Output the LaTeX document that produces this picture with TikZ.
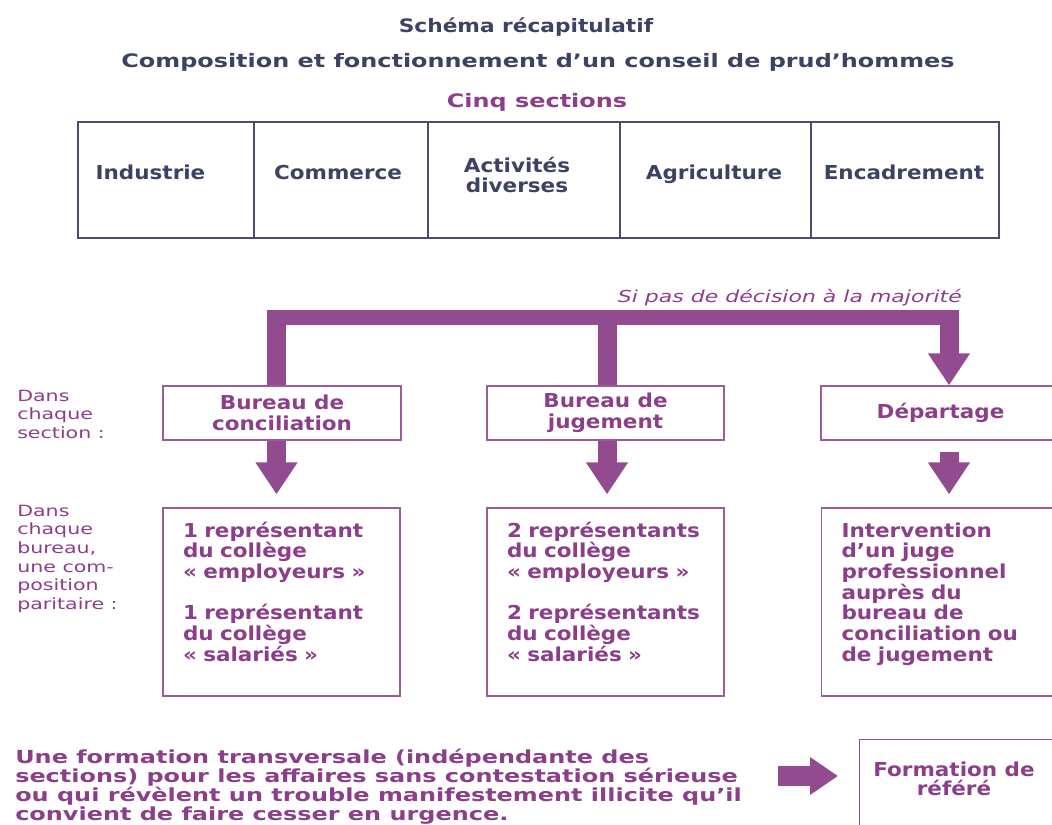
\documentclass[tikz,border=0pt]{standalone}
\usepackage{fontspec}
\setmainfont{DejaVu Sans}[FakeStretch=1.12]
\newfontfamily\ftitle{DejaVu Sans}[FakeStretch=1.29]
\newfontfamily\ftitleA{DejaVu Sans}[FakeStretch=1.17]
\newfontfamily\fwide{DejaVu Sans}[FakeStretch=1.33]
\usetikzlibrary{arrows.meta}
\definecolor{dk}{HTML}{3C4263}
\definecolor{tl}{HTML}{4A4E6C}
\definecolor{pu}{HTML}{924B8F}
\definecolor{ptx}{HTML}{8C3E8A}
\definecolor{pb}{HTML}{9B5C98}
\newcommand{\tstr}{\rule{0pt}{12pt}}
\newcommand{\bstr}{\rule[-16.5pt]{0pt}{16.5pt}}
\tikzset{
  ttl/.style={font=\ftitle\fontsize{13.9pt}{16pt}\selectfont\bfseries, text=dk, inner sep=0pt},
  cell/.style={draw=tl, line width=1.1pt, minimum height=87pt, inner sep=0pt},
  celltext/.style={font=\fontsize{14.4pt}{15.5pt}\selectfont\bfseries, text=dk, inner sep=0pt, align=center},
  box/.style={draw=pb, line width=1pt, inner sep=0pt, text=ptx, align=center,
     font=\fontsize{14.4pt}{15.75pt}\selectfont\bfseries},
  bigbox/.style={draw=pb, line width=1pt, inner xsep=15pt, inner ysep=0pt, text=ptx, align=left,
     text width=147.75pt, minimum height=141pt,
     font=\fontsize{14.4pt}{15.5pt}\selectfont\bfseries},
  lab/.style={font=\fwide\fontsize{11.6pt}{14pt}\selectfont, text=ptx, inner sep=0pt, align=left},
  itl/.style={font=\fwide\fontsize{12.4pt}{14pt}\selectfont\itshape, text=ptx, inner sep=0pt},
  bottomtext/.style={font=\fwide\fontsize{13.5pt}{14.25pt}\selectfont\bfseries, text=ptx, inner sep=0pt, align=left},
  bar/.style={draw=pu, line width=11.25pt},
  stem/.style={draw=pu, line width=14.25pt},
  tip/.style={-{Triangle[width=30pt,length=24pt]}, fill=pu},
}
\begin{document}
\begin{tikzpicture}[x=0.75pt,y=-0.75pt]
\useasboundingbox (0,0) rectangle (1052,824);
\clip (0,0) rectangle (1052,824);
% titles
\node[ttl, font=\ftitleA\fontsize{13.9pt}{16pt}\selectfont\bfseries, anchor=base] (t1) at (526,33) {Schéma récapitulatif};
\node[ttl, anchor=base] (t2) at (538,68) {Composition et fonctionnement d’un conseil de prud’hommes};
\node[ttl, text=ptx, anchor=base] (t3) at (537,108) {Cinq sections};
% table of sections
\node[cell, minimum width=132pt] (c1) at (166,180) {};
\node[cell, minimum width=130.5pt] (c2) at (341,180) {};
\node[cell, minimum width=144pt] (c3) at (524,180) {};
\node[cell, minimum width=143.25pt] (c4) at (715.5,180) {};
\node[cell, minimum width=141pt] (c5) at (905,180) {};
\node[celltext, anchor=base] (x1) at (150.5,179) {Industrie};
\node[celltext, anchor=base] (x2) at (338,179) {Commerce};
\node[celltext, anchor=north] (x3) at (517,156) {\tstr Activités\\diverses};
\node[celltext, anchor=base] (x4) at (714,179) {Agriculture};
\node[celltext, anchor=base] (x5) at (904,179) {Encadrement};
% label
\node[itl, anchor=base east] (maj) at (962,302) {Si pas de décision à la majorité};
% left labels
\node[lab, anchor=north west] (l1) at (17,385) {\tstr Dans\\chaque\\section :};
\node[lab, anchor=north west] (l2) at (17,500) {\tstr Dans\\chaque\\bureau,\\une com-\\position\\paritaire :};
% row 1 boxes
\node[box, minimum width=178.5pt, minimum height=40.5pt] (bc) at (282,413) {Bureau de\\conciliation};
\node[box, minimum width=177.75pt, minimum height=40.5pt] (bj) at (605.5,413) {Bureau de\\jugement};
\node[box, minimum width=179.25pt, minimum height=40.5pt] (dp) at (940.5,413) {Départage};
% row 2 boxes
\node[bigbox] (cb2) at (281.5,602) {\tstr 1 représentant\\du collège\\« employeurs »\\[15.5pt]1 représentant\\du collège\\« salariés »\bstr};
\node[bigbox] (jb2) at (605.5,602) {\tstr 2 représentants\\du collège\\« employeurs »\\[15.5pt]2 représentants\\du collège\\« salariés »\bstr};
\node[bigbox] (db2) at (940,602) {\tstr Intervention\\d’un juge\\professionnel\\auprès du\\bureau de\\conciliation ou\\de jugement\bstr};
% bottom
\node[bottomtext, anchor=north west] (bt) at (15,747) {\tstr Une formation transversale (indépendante des\\sections) pour les affaires sans contestation sérieuse\\ou qui révèlent un trouble manifestement illicite qu’il\\convient de faire cesser en urgence.};
\node[draw=pu, line width=1.1pt, anchor=north west, minimum width=180.75pt, minimum height=98.25pt, inner sep=0pt] (ref) at (859,739) {};
\node[box, draw=none, anchor=north, font=\fontsize{14.4pt}{14pt}\selectfont\bfseries] (reft) at (954,760) {\tstr Formation de\\référé};
% connectors
\coordinate (s1) at (276.5,310);
\coordinate (s2) at (607,310);
\coordinate (s3) at (949,310);
\coordinate (bl) at (267,317.5);
\coordinate (br) at (958,317.5);
\draw[bar] (bl) -- (br);
\draw[stem] (s1) -- (s1 |- bc.north);
\draw[stem] (s2) -- (s2 |- bj.north);
\draw[stem, tip] (s3) -- (s3 |- dp.north);
\draw[stem, tip, shorten >=9.75pt] (s1 |- bc.south) -- (s1 |- cb2.north);
\draw[stem, tip, shorten >=9.75pt] (s2 |- bj.south) -- (s2 |- jb2.north);
\draw[stem, tip, shorten <=8.25pt, shorten >=9.75pt] (s3 |- dp.south) -- (s3 |- db2.north);
\coordinate (ba) at (778,776);
\draw[draw=pu, fill=pu, line width=15pt, -{Triangle[width=27pt,length=21pt]}, shorten >=15.75pt] (ba) -- (ba -| ref.west);
\end{tikzpicture}
\end{document}
